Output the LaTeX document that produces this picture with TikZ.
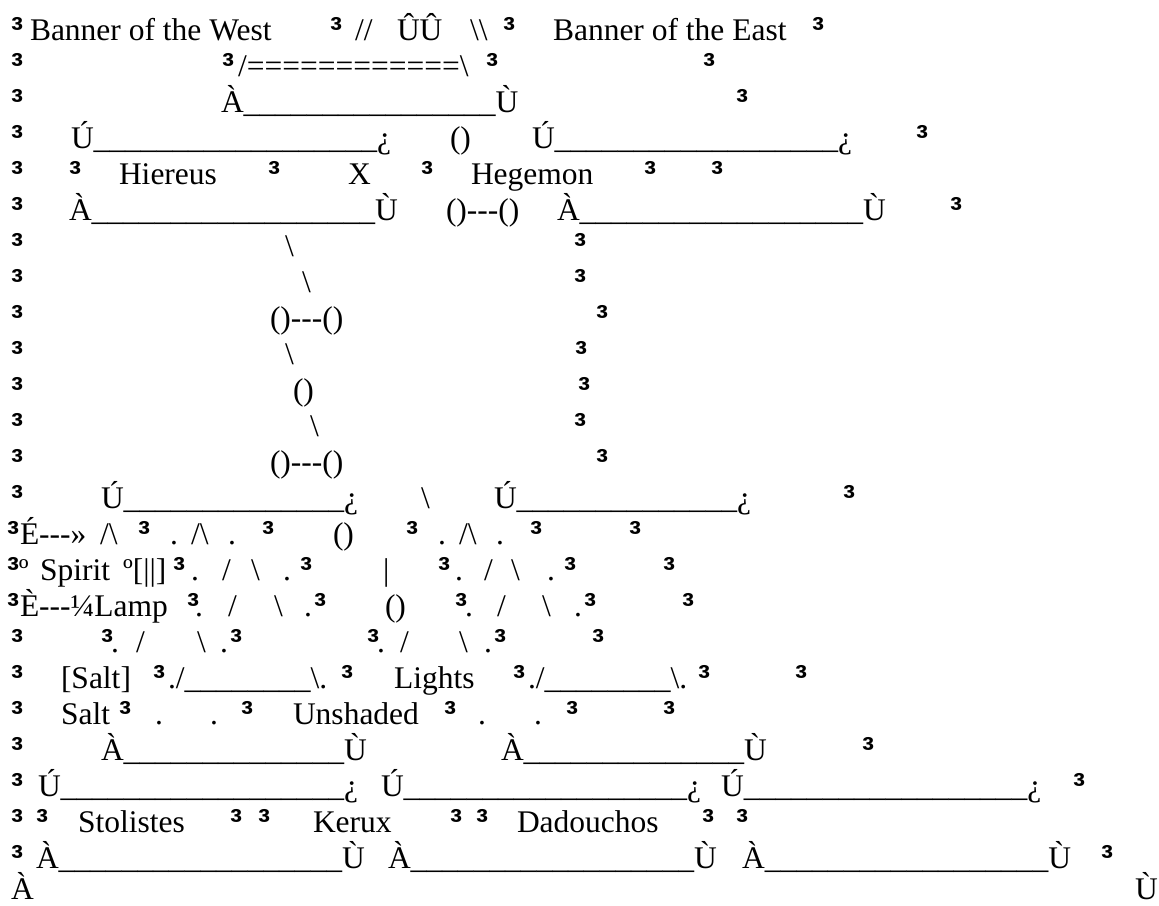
\documentclass[tikz,border=0pt]{standalone}
\usepackage{fontspec}
\usepackage{tikz}
\newfontfamily\artfont{Liberation Serif}[Ligatures=TeXOff]
\newfontfamily\barfont{Liberation Sans}
\tikzset{
  art/.style={anchor=base west,inner sep=0pt,outer sep=0pt,font=\artfont\fontsize{31.5}{36}\selectfont},
  % the box-drawing bar, as the page prints it
  pipe/.style={anchor=base west,inner sep=0pt,outer sep=0pt,yshift=-2pt,font=\barfont\bfseries\fontsize{36}{36}\selectfont},
}
\newcommand{\Us}[1]{\foreach\k in {1,...,#1}{\_}}
\newcommand{\Txt}[4]{\node[art] (#1) at (#2,{40+36.04*(#3-1)}) {#4};}
\newcommand{\Sep}[3]{\node[pipe] (#1) at (#2,{40+36.04*(#3-1)}) {³};}
\newcommand{\Bs}{\textbackslash}

\begin{document}
\begin{tikzpicture}[x=1pt,y=-1pt]
  \useasboundingbox (0,0) rectangle (1159,905);
  % banners and altar
  \Sep{s1a}{12}{1} \Txt{west}{30}{1}{Banner of the West} \Sep{s1b}{330}{1}
  \Txt{slashes}{355}{1}{//} \Txt{blocks}{397}{1}{ÛÛ} \Txt{bslashes}{470}{1}{\Bs\Bs}
  \Sep{s1c}{503}{1} \Txt{east}{553}{1}{Banner of the East} \Sep{s1d}{812}{1}
  \Sep{s2a}{12}{2} \Sep{s2b}{222}{2} \Txt{roof}{238}{2}{/============\Bs}
  \Sep{s2c}{486}{2} \Sep{s2d}{703}{2}
  \Sep{s3a}{12}{3} \Txt{altar}{221}{3}{À\Us{16}Ù} \Sep{s3b}{736}{3}
  % hiereus and hegemon
  \Sep{s4a}{12}{4} \Txt{hiertop}{71}{4}{Ú\Us{18}¿} \Txt{c4}{450}{4}{()}
  \Txt{hegtop}{532}{4}{Ú\Us{18}¿} \Sep{s4b}{916}{4}
  \Sep{s5a}{12}{5} \Sep{s5b}{69}{5} \Txt{hiereus}{119}{5}{Hiereus} \Sep{s5c}{268}{5}
  \Txt{cross}{348}{5}{X} \Sep{s5d}{421}{5} \Txt{hegemon}{471}{5}{Hegemon}
  \Sep{s5e}{644}{5} \Sep{s5f}{711}{5}
  \Sep{s6a}{12}{6} \Txt{hierbot}{69}{6}{À\Us{18}Ù} \Txt{c6}{446}{6}{()---()}
  \Txt{hegbot}{557}{6}{À\Us{18}Ù} \Sep{s6b}{950}{6}
  % the path down
  \Sep{s7a}{12}{7} \Txt{d7}{285}{7}{\Bs} \Sep{s7b}{574}{7}
  \Sep{s8a}{12}{8} \Txt{d8}{302}{8}{\Bs} \Sep{s8b}{574}{8}
  \Sep{s9a}{12}{9} \Txt{c9}{270}{9}{()---()} \Sep{s9b}{596}{9}
  \Sep{s10a}{12}{10} \Txt{d10}{285}{10}{\Bs} \Sep{s10b}{575}{10}
  \Sep{s11a}{12}{11} \Txt{c11}{293}{11}{()} \Sep{s11b}{578}{11}
  \Sep{s12a}{12}{12} \Txt{d12}{310}{12}{\Bs} \Sep{s12b}{574}{12}
  \Sep{s13a}{12}{13} \Txt{c13}{270}{13}{()---()} \Sep{s13b}{596}{13}
  % salt, lamp and lights
  \Sep{s14a}{12}{14} \Txt{salttop}{101}{14}{Ú\Us{14}¿} \Txt{d14}{421}{14}{\Bs}
  \Txt{lighttop}{494}{14}{Ú\Us{14}¿} \Sep{s14b}{843}{14}
  \Sep{s15a}{7}{15} \Txt{lamptop}{20}{15}{É---»} \Txt{tri15a}{100}{15}{/\Bs}
  \Sep{s15b}{138}{15} \Txt{p15a}{170}{15}{.} \Txt{tri15b}{191}{15}{/\Bs} \Txt{p15b}{228}{15}{.}
  \Sep{s15c}{262}{15} \Txt{c15}{333}{15}{()} \Sep{s15d}{406}{15} \Txt{p15c}{438}{15}{.}
  \Txt{tri15c}{459}{15}{/\Bs} \Txt{p15d}{496}{15}{.} \Sep{s15e}{530}{15} \Sep{s15f}{629}{15}
  \Sep{s16a}{7}{16} \Txt{lampl}{19}{16}{º} \Txt{spirit}{40}{16}{Spirit} \Txt{lampr}{123}{16}{º[||]}
  \Sep{s16b}{173}{16} \Txt{p16a}{191}{16}{.} \Txt{sl16a}{222}{16}{/} \Txt{bs16a}{251}{16}{\Bs}
  \Txt{p16b}{283}{16}{.} \Sep{s16c}{300}{16} \Txt{stem}{383}{16}{|} \Sep{s16d}{438}{16}
  \Txt{p16c}{455}{16}{.} \Txt{sl16b}{484}{16}{/} \Txt{bs16b}{511}{16}{\Bs} \Txt{p16d}{547}{16}{.}
  \Sep{s16e}{564}{16} \Sep{s16f}{663}{16}
  \Sep{s17a}{7}{17} \Txt{lampbot}{20}{17}{È---¼Lamp} \Sep{s17b}{187}{17} \Txt{p17a}{195}{17}{.}
  \Txt{sl17a}{228}{17}{/} \Txt{bs17a}{274}{17}{\Bs} \Txt{p17b}{304}{17}{.} \Sep{s17c}{314}{17}
  \Txt{c17}{385}{17}{()} \Sep{s17d}{455}{17} \Txt{p17c}{465}{17}{.} \Txt{sl17b}{497}{17}{/}
  \Txt{bs17b}{542}{17}{\Bs} \Txt{p17d}{574}{17}{.} \Sep{s17e}{584}{17} \Sep{s17f}{682}{17}
  \Sep{s18a}{12}{18} \Sep{s18b}{101}{18} \Txt{p18a}{111}{18}{.} \Txt{sl18a}{136}{18}{/}
  \Txt{bs18a}{197}{18}{\Bs} \Txt{p18b}{220}{18}{.} \Sep{s18c}{230}{18} \Sep{s18d}{367}{18}
  \Txt{p18c}{377}{18}{.} \Txt{sl18b}{400}{18}{/} \Txt{bs18b}{459}{18}{\Bs} \Txt{p18d}{484}{18}{.}
  \Sep{s18e}{494}{18} \Sep{s18f}{592}{18}
  \Sep{s19a}{12}{19} \Txt{saltb}{61}{19}{[Salt]} \Sep{s19b}{153}{19}
  \Txt{base19a}{168}{19}{./\Us{8}\Bs.} \Sep{s19c}{341}{19} \Txt{lights}{394}{19}{Lights}
  \Sep{s19d}{513}{19} \Txt{base19b}{528}{19}{./\Us{8}\Bs.} \Sep{s19e}{698}{19} \Sep{s19f}{795}{19}
  \Sep{s20a}{12}{20} \Txt{salt}{61}{20}{Salt} \Sep{s20b}{119}{20} \Txt{p20a}{155}{20}{.}
  \Txt{p20b}{210}{20}{.} \Sep{s20c}{241}{20} \Txt{unshaded}{293}{20}{Unshaded} \Sep{s20d}{444}{20}
  \Txt{p20c}{478}{20}{.} \Txt{p20d}{534}{20}{.} \Sep{s20e}{566}{20} \Sep{s20f}{663}{20}
  \Sep{s21a}{12}{21} \Txt{saltbot}{101}{21}{À\Us{14}Ù} \Txt{lightbot}{501}{21}{À\Us{14}Ù}
  \Sep{s21b}{862}{21}
  % stolistes, kerux, dadouchos
  \Sep{s22a}{12}{22} \Txt{stoltop}{38}{22}{Ú\Us{18}¿} \Txt{kertop}{381}{22}{Ú\Us{18}¿}
  \Txt{dadtop}{721}{22}{Ú\Us{18}¿} \Sep{s22b}{1073}{22}
  \Sep{s23a}{12}{23} \Sep{s23b}{36}{23} \Txt{stolistes}{78}{23}{Stolistes}
  \Sep{s23c}{230}{23} \Sep{s23d}{258}{23} \Txt{kerux}{313}{23}{Kerux}
  \Sep{s23e}{450}{23} \Sep{s23f}{476}{23} \Txt{dadouchos}{517}{23}{Dadouchos}
  \Sep{s23g}{702}{23} \Sep{s23h}{736}{23}
  \Sep{s24a}{12}{24} \Txt{stolbot}{36}{24}{À\Us{18}Ù} \Txt{kerbot}{388}{24}{À\Us{18}Ù}
  \Txt{dadbot}{742}{24}{À\Us{18}Ù} \Sep{s24b}{1101}{24}
  \Txt{floorl}{11}{24.84}{À} \Txt{floorr}{1135}{24.84}{Ù}
\end{tikzpicture}
\end{document}
